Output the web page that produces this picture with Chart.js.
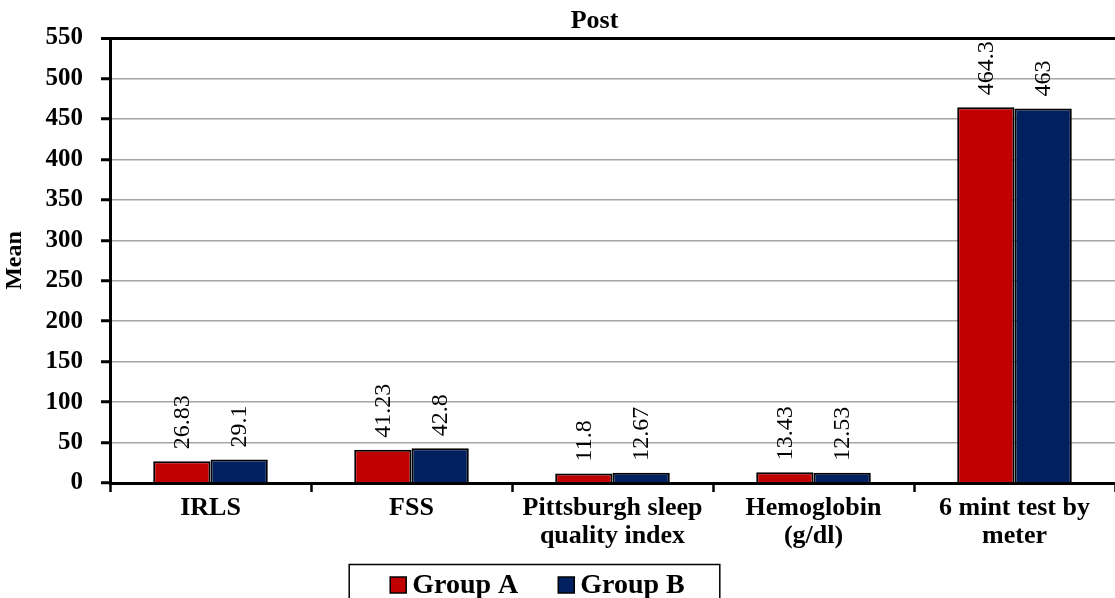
<!DOCTYPE html>
<html>
<head>
<meta charset="utf-8">
<script src="https://cdn.jsdelivr.net/npm/chart.js@4/dist/chart.umd.min.js"></script>
<style>
  html, body { margin: 0; padding: 0; background: #fff; }
  #wrap { width: 1115px; height: 598px; }
</style>
</head>
<body>
<div id="wrap"><canvas id="postChart"></canvas></div>
<script>
var categories = [
    "IRLS",
    "FSS",
    ["Pittsburgh sleep", "quality index"],
    ["Hemoglobin", "(g/dl)"],
    ["6 mint test by", "meter"]
];
var groupA = [26.83, 41.23, 11.8, 13.43, 464.3];
var groupB = [29.1, 42.8, 12.67, 12.53, 463];
var yTicks = { min: 0, max: 550, step: 50 };

var serif = "'Liberation Serif', 'Times New Roman', serif";

// value labels written upright above each bar
var barLabels = {
    id: 'barLabels',
    afterDatasetsDraw: function (chart) {
        var ctx = chart.ctx;
        chart.data.datasets.forEach(function (ds, i) {
            var meta = chart.getDatasetMeta(i);
            meta.data.forEach(function (bar, j) {
                ctx.save();
                ctx.translate(bar.x, bar.y - 12);
                ctx.rotate(-Math.PI / 2);
                ctx.font = "24px " + serif;
                ctx.fillStyle = "#000";
                ctx.textAlign = "left";
                ctx.textBaseline = "middle";
                ctx.fillText(String(ds.data[j]), 0, 1);
                ctx.restore();
            });
        });
    }
};

// title and framed legend, drawn by hand
var titleAndLegend = {
    id: 'titleAndLegend',
    afterDraw: function (chart) {
        var ctx = chart.ctx;
        ctx.save();
        ctx.fillStyle = "#000";
        ctx.font = "bold 26px " + serif;
        ctx.textAlign = "center";
        ctx.textBaseline = "middle";
        ctx.fillText("Post", (chart.chartArea.left + chart.chartArea.right) / 2 - 18, 21);

        // legend
        ctx.font = "bold 28px " + serif;
        var sw = 16, gap = 6, spacing = 40;
        var items = chart.data.datasets.map(function (ds) {
            return { text: ds.label, color: ds.backgroundColor, w: sw + gap + ctx.measureText(ds.label).width };
        });
        var total = items.reduce(function (s, it) { return s + it.w; }, 0) + spacing * (items.length - 1);
        var cx = chart.width / 2 - 20;
        var x = cx - total / 2;
        var y = 585;
        ctx.strokeStyle = "#000";
        ctx.lineWidth = 1.5;
        ctx.strokeRect(x - 41, 564.5, total + 76, 60);
        ctx.textAlign = "left";
        items.forEach(function (it) {
            ctx.fillStyle = it.color;
            ctx.fillRect(x, y - 8, sw, sw);
            ctx.strokeStyle = "#000";
            ctx.lineWidth = 1.5;
            ctx.strokeRect(x, y - 8, sw, sw);
            ctx.fillStyle = "#000";
            ctx.fillText(it.text, x + sw + gap, y + 1);
            x += it.w + spacing;
        });
        ctx.restore();
    }
};

var ctx = document.getElementById("postChart");
var myChart = new Chart(ctx, {
    type: 'bar',
    data: {
        labels: categories,
        datasets: [{
            label: "Group A",
            data: groupA,
            backgroundColor: "#c00000",
            borderColor: "#000",
            borderWidth: 2
        }, {
            label: "Group B",
            data: groupB,
            backgroundColor: "#002060",
            borderColor: "#000",
            borderWidth: 2
        }]
    },
    options: {
        responsive: true,
        maintainAspectRatio: false,
        animation: false,
        datasets: {
            bar: { categoryPercentage: 0.57, barPercentage: 1 }
        },
        layout: { padding: { left: 0, right: 0, top: 38, bottom: 47 } },
        plugins: {
            title: { display: false },
            legend: { display: false },
            tooltip: { enabled: false }
        },
        scales: {
            x: {
                grid: {
                    drawOnChartArea: false,
                    drawTicks: true,
                    tickLength: 9,
                    tickColor: "#000",
                    tickWidth: 2.5
                },
                border: { color: "#000", width: 3 },
                ticks: {
                    color: "#000",
                    maxRotation: 0,
                    autoSkip: false,
                    padding: 3,
                    font: { family: serif, size: 26, weight: 'bold', lineHeight: 1.05 }
                },
                afterFit: function (scale) { scale.height = 68; }
            },
            y: {
                min: yTicks.min,
                max: yTicks.max,
                grid: {
                    color: function (c) {
                        return c.tick && c.tick.value === yTicks.max ? "#000" : "#a6a6a6";
                    },
                    lineWidth: function (c) {
                        return c.tick && c.tick.value === yTicks.max ? 3 : 1.5;
                    },
                    tickColor: "#000",
                    tickLength: 9,
                    tickWidth: 3
                },
                border: { color: "#000", width: 3 },
                ticks: {
                    stepSize: yTicks.step,
                    color: "#000",
                    padding: 18,
                    font: { family: serif, size: 25, weight: 'bold' }
                },
                title: {
                    display: true,
                    text: "Mean",
                    color: "#000",
                    font: { family: serif, size: 24, weight: 'bold' },
                    padding: { top: 0, bottom: 0 }
                },
                afterFit: function (scale) { scale.width = 110; }
            }
        }
    },
    plugins: [barLabels, titleAndLegend]
});
</script>
</body>
</html>
